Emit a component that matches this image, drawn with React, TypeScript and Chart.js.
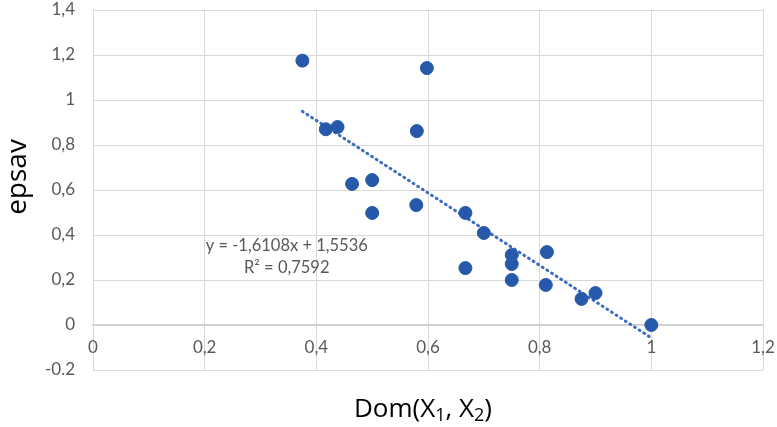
import React, { useEffect, useRef } from "react";
import { Chart, registerables } from "chart.js";

Chart.register(...registerables);

// ---- data ----
const domValues = [0.375, 0.417, 0.438, 0.464, 0.5, 0.5, 0.58, 0.598, 0.579, 0.667, 0.667, 0.7, 0.75, 0.75, 0.75, 0.813, 0.811, 0.875, 0.9, 1.0];
const epsavValues = [1.175, 0.87, 0.88, 0.627, 0.644, 0.498, 0.862, 1.142, 0.533, 0.498, 0.253, 0.409, 0.311, 0.271, 0.2, 0.324, 0.178, 0.116, 0.142, 0.0];
const xTickLabels = ["0", "0,2", "0,4", "0,6", "0,8", "1", "1,2"];
const yTickLabels = ["-0.2", "0", "0,2", "0,4", "0,6", "0,8", "1", "1,2", "1,4"];
const trendSlope = -1.6108;
const trendIntercept = 1.5536;
const trendLabel = "y = -1,6108x + 1,5536";
const r2Label = "R² = 0,7592";
const xTitleParts = ["Dom(X", "1", ", X", "2", ")"];
const yTitle = "epsav";

const FONT = "Lato, 'Open Sans', 'DejaVu Sans', sans-serif";
const TITLE_FONT = "'Open Sans', 'DejaVu Sans', sans-serif";

export default function App() {
  const ref = useRef<HTMLCanvasElement | null>(null);

  useEffect(() => {
    if (!ref.current) return;
    const points = domValues.map((x, i) => ({ x, y: epsavValues[i] }));
    const xMin = Math.min(...domValues);
    const xMax = Math.max(...domValues);
    const trend = [xMin, xMax].map((x) => ({ x, y: trendSlope * x + trendIntercept }));

    const textPlugin = {
      id: "texts",
      afterDraw(chart: any) {
        const ctx = chart.ctx;
        const xs = chart.scales.x;
        const ys = chart.scales.y;
        ctx.save();
        // equation
        ctx.fillStyle = "#595959";
        ctx.font = `16.5px ${FONT}`;
        ctx.textAlign = "center";
        ctx.textBaseline = "middle";
        const ex = xs.getPixelForValue(0.347);
        ctx.fillText(trendLabel, ex, ys.getPixelForValue(0.352));
        ctx.fillText(r2Label, ex, ys.getPixelForValue(0.253));
        // x title with subscripts
        ctx.fillStyle = "#000";
        ctx.textAlign = "left";
        ctx.textBaseline = "alphabetic";
        const mainFont = `26px ${TITLE_FONT}`;
        const subFont = `18px ${TITLE_FONT}`;
        const widths = xTitleParts.map((p, i) => {
          ctx.font = i % 2 === 1 ? subFont : mainFont;
          return ctx.measureText(p).width;
        });
        const total = widths.reduce((a, b) => a + b, 0);
        let cx = 423 - total / 2;
        const base = 417;
        xTitleParts.forEach((p, i) => {
          const sub = i % 2 === 1;
          ctx.font = sub ? subFont : mainFont;
          ctx.fillText(p, cx, sub ? base + 4 : base);
          cx += widths[i];
        });
        // y title
        ctx.textAlign = "center";
        ctx.textBaseline = "middle";
        ctx.translate(18, 177);
        ctx.rotate(-Math.PI / 2);
        ctx.font = `28px ${TITLE_FONT}`;
        ctx.fillText(yTitle, 0, 0);
        ctx.restore();
      },
    };

    const chart = new Chart(ref.current, {
      type: "scatter",
      data: {
        datasets: [
          {
            type: "scatter",
            data: points,
            backgroundColor: "#2659A9",
            borderColor: "#2659A9",
            pointRadius: 6.5,
            pointHoverRadius: 6.5,
            order: 1,
          },
          {
            type: "line",
            data: trend,
            borderColor: "#3D6DC2",
            borderWidth: 3,
            borderDash: [1, 4.5],
            borderCapStyle: "round",
            pointRadius: 0,
            fill: false,
            order: 2,
          } as any,
        ],
      },
      options: {
        animation: false,
        responsive: true,
        maintainAspectRatio: false,
        events: [],
        layout: { padding: { left: 0, top: 10, right: 14, bottom: 57 } },
        plugins: { legend: { display: false }, tooltip: { enabled: false } },
        scales: {
          x: {
            type: "linear",
            position: { y: 0 } as any,
            min: 0,
            max: 1.2,
            grid: { color: "#D9D9D9", lineWidth: 1, drawTicks: false },
            border: { display: true, color: "#CFCFCF", width: 1.5 },
            afterFit: (scale: any) => {
              scale.paddingLeft = 0;
              scale.paddingRight = 0;
              scale.paddingTop = 0;
              scale.paddingBottom = 0;
            },
            ticks: {
              stepSize: 0.2,
              padding: 12,
              color: "#595959",
              font: { family: FONT, size: 17 },
              maxRotation: 0,
              callback: (_v: any, i: number) => xTickLabels[i],
            },
          },
          y: {
            type: "linear",
            min: -0.2,
            max: 1.4,
            grid: { color: "#D9D9D9", lineWidth: 1, drawTicks: false },
            border: { display: false },
            afterFit: (scale: any) => {
              scale.width = 93;
              scale.paddingLeft = 0;
              scale.paddingRight = 0;
              scale.paddingTop = 0;
              scale.paddingBottom = 0;
            },
            ticks: {
              stepSize: 0.2,
              padding: 18,
              color: "#595959",
              font: { family: FONT, size: 17 },
              callback: (_v: any, i: number) => yTickLabels[i],
            },
          },
        },
      },
      plugins: [textPlugin],
    });
    return () => chart.destroy();
  }, []);

  return (
    <div style={{ position: "fixed", left: 0, top: 0, width: 777, height: 427, background: "#fff" }}>
      <canvas ref={ref} />
    </div>
  );
}
